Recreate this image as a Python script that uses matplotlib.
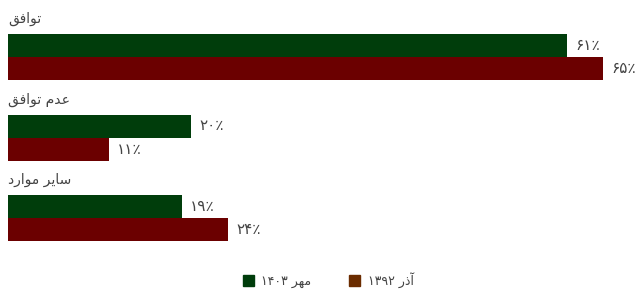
import matplotlib
matplotlib.use("Agg")
import matplotlib.pyplot as plt
from matplotlib.patches import Patch

categories = ["توافق", "عدم توافق", "سایر موارد"]
series_names = ["مهر ۱۴۰۳", "آذر ۱۳۹۲"]
mehr_1403 = [61, 20, 19]
azar_1392 = [65, 11, 24]

bar_colors = ["#003d0b", "#6b0000"]
legend_colors = ["#003d0b", "#6b2c00"]
text_color = "#444444"

# matplotlib does no arabic shaping, so pick presentation forms by hand
# (isolated, final, initial, medial)
FORMS = {
    "ا": (0xFE8D, 0xFE8E, None, None),
    "آ": (0xFE81, 0xFE82, None, None),
    "د": (0xFEA9, 0xFEAA, None, None),
    "ذ": (0xFEAB, 0xFEAC, None, None),
    "ر": (0xFEAD, 0xFEAE, None, None),
    "و": (0xFEED, 0xFEEE, None, None),
    "ت": (0xFE95, 0xFE96, 0xFE97, 0xFE98),
    "ف": (0xFED1, 0xFED2, 0xFED3, 0xFED4),
    "ق": (0xFED5, 0xFED6, 0xFED7, 0xFED8),
    "ع": (0xFEC9, 0xFECA, 0xFECB, 0xFECC),
    "م": (0xFEE1, 0xFEE2, 0xFEE3, 0xFEE4),
    "س": (0xFEB1, 0xFEB2, 0xFEB3, 0xFEB4),
    "ه": (0xFEE9, 0xFEEA, 0xFEEB, 0xFEEC),
    "ی": (0xFBFC, 0xFBFD, 0xFBFE, 0xFBFF),
}


def shape_word(word):
    out = []
    for k, ch in enumerate(word):
        if ch not in FORMS:
            out.append(ch)
            continue
        iso, fin, ini, med = FORMS[ch]
        prev = word[k - 1] if k > 0 else None
        nxt = word[k + 1] if k < len(word) - 1 else None
        jp = prev in FORMS and FORMS[prev][2] is not None
        jn = nxt in FORMS and ini is not None
        if jp and jn:
            out.append(chr(med))
        elif jp:
            out.append(chr(fin))
        elif jn:
            out.append(chr(ini))
        else:
            out.append(chr(iso))
    return "".join(out)


def rtl(text):
    words = text.split(" ")[::-1]
    return " ".join(w if w[0].isdigit() else shape_word(w)[::-1] for w in words)


def fa_num(v):
    return "".join("۰۱۲۳۴۵۶۷۸۹"[int(d)] for d in str(v)) + "٪"


plt.rcParams["font.family"] = ["DejaVu Sans"]

fig = plt.figure(figsize=(6.4, 2.89), dpi=100)
ax = fig.add_axes([8 / 640, 39 / 289, 632 / 640, 240 / 289])

off = 11.5 / 80.5
h = 23 / 80.5
ys = list(range(len(categories)))
ax.barh([y - off for y in ys], mehr_1403, height=h, color=bar_colors[0])
ax.barh([y + off for y in ys], azar_1392, height=h, color=bar_colors[1])

for y, v in zip(ys, mehr_1403):
    ax.annotate(fa_num(v), (v, y - off), xytext=(6, 0), textcoords="offset points",
                va="center", ha="left", fontsize=11, color=text_color)
for y, v in zip(ys, azar_1392):
    ax.annotate(fa_num(v), (v, y + off), xytext=(6, 0), textcoords="offset points",
                va="center", ha="left", fontsize=11, color=text_color)

for y, c in zip(ys, categories):
    ax.text(0, y - 38 / 80.5, rtl(c), ha="left", va="center", fontsize=10, color=text_color)

ax.set_xlim(0, 632 / 9.16)
ax.set_ylim((250 - 57) / 80.5, (10 - 57) / 80.5)
ax.axis("off")

handles = [Patch(color=legend_colors[0], label=rtl(series_names[0])),
           Patch(color=legend_colors[1], label=rtl(series_names[1]))]
leg = fig.legend(handles=handles, loc="center", bbox_to_anchor=(328 / 640, 1 - 280 / 289),
                 ncol=2, frameon=False, fontsize=9, handlelength=0.9, handleheight=0.9,
                 handletextpad=0.6, columnspacing=3, borderpad=0.2)
for t in leg.get_texts():
    t.set_color(text_color)

fig.savefig("out.png", dpi=100)
